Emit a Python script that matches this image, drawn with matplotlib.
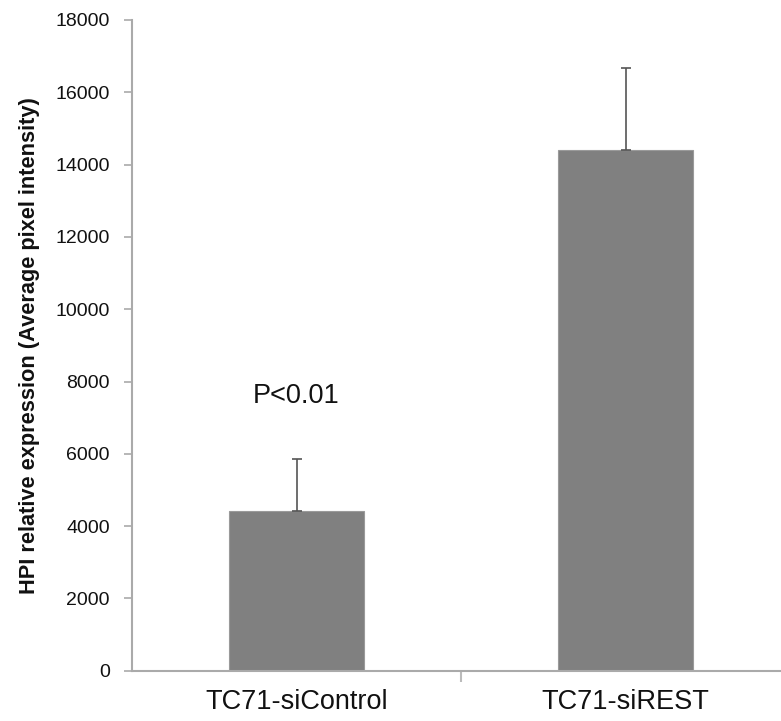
import matplotlib
matplotlib.use("Agg")
import matplotlib.pyplot as plt
from matplotlib.ticker import FixedLocator

categories = ["TC71-siControl", "TC71-siREST"]
values = [4430, 14400]
errors = [1420, 2260]
yticks = [0, 2000, 4000, 6000, 8000, 10000, 12000, 14000, 16000, 18000]
annotation = "P<0.01"

plt.rcParams['font.family'] = ['Liberation Sans', 'DejaVu Sans']

W, H = 781, 721
fig = plt.figure(figsize=(W/100, H/100), dpi=100)
ax_left, ax_right = 132, 790
ax_top, ax_bottom = 20, 670.7
ax = fig.add_axes([ax_left/W, (H-ax_bottom)/H, (ax_right-ax_left)/W, (ax_bottom-ax_top)/H])

x = list(range(len(categories)))
ax.bar(x, values, width=0.41, color="#808080", edgecolor="#9a9a9a", linewidth=0.8, zorder=2)
ax.errorbar(x, values, yerr=[[0]*len(values), errors], fmt="none", ecolor="#555555",
            elinewidth=1.2, capsize=3.5, capthick=1.2, zorder=3)

ax.set_xlim(-0.5, len(categories)-0.5)
ax.set_ylim(0, 18000)
ax.yaxis.set_major_locator(FixedLocator(yticks))
ax.set_yticklabels([str(t) for t in yticks], fontsize=14, color="#111111")

ax.set_xticks(x)
ax.set_xticklabels(categories, fontsize=19.5, color="#111111")
ax.tick_params(axis='x', length=0, pad=13)
ax.set_xticks([0.5], minor=True)
ax.tick_params(axis='x', which='minor', length=8, width=1.5, color="#bbbbbb", direction='out')
ax.tick_params(axis='y', length=6, width=1.2, color="#aaaaaa", direction='out', pad=10)

for s in ["top", "right"]:
    ax.spines[s].set_visible(False)
for s in ["left", "bottom"]:
    ax.spines[s].set_color("#aaaaaa")
    ax.spines[s].set_linewidth(1.5)

ax.set_ylabel("HPI relative expression (Average pixel intensity)", fontsize=15.7,
              fontweight='bold', color="#111111", labelpad=11)

ax.text(0, 7600, annotation, ha='center', va='center', fontsize=19.5, color="#111111")

fig.savefig("out.png", dpi=100)
